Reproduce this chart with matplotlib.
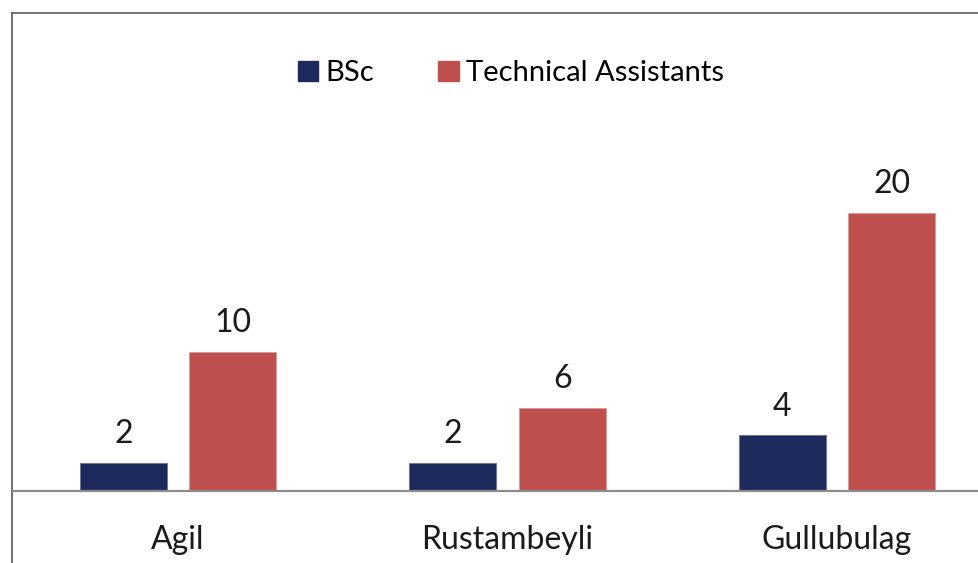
import numpy as np
import matplotlib.pyplot as plt
from matplotlib.patches import Patch

# data
villages = ["Agil", "Rustambeyli", "Gullubulag"]
bsc = [2, 2, 4]
tech_assistants = [10, 6, 20]

navy = "#1f2a5c"
red = "#c0504d"

plt.rcParams['font.family'] = ['Lato', 'DejaVu Sans']

fig = plt.figure(figsize=(9.79, 5.63), dpi=100)
W, H = 979, 563

# axes spans from the left frame line to the right edge, top frame line to bottom
ax = fig.add_axes([12 / W, 0, 1 - 12 / W, 1 - 13 / H])

x = np.arange(len(villages))
off = 0.166
w = 0.264
b1 = ax.bar(x - off, bsc, w, color=navy, edgecolor="#6b7090", linewidth=0.6, label="BSc")
b2 = ax.bar(x + off, tech_assistants, w, color=red, edgecolor="#d99a98", linewidth=0.6,
            label="Technical Assistants")

for bars, vals in ((b1, bsc), (b2, tech_assistants)):
    for r, v in zip(bars, vals):
        ax.annotate(str(v), (r.get_x() + r.get_width() / 2, v), xytext=(0, 10),
                    textcoords="offset points", ha="center", va="bottom",
                    fontsize=23, color="#1a1a1a")

for i, name in enumerate(villages):
    ax.text(i, -3.5, name, ha="center", va="center", fontsize=23, color="#1a1a1a")

ax.axhline(0, color="#8c8c8c", lw=1.6, zorder=3)

ax.set_xlim(-0.504, 2.431)
ax.set_ylim(-5.18, 34.4)
ax.set_xticks([])
ax.set_yticks([])
for s in ["right", "bottom"]:
    ax.spines[s].set_visible(False)
ax.spines["left"].set_color("#595959")
ax.spines["top"].set_color("#595959")
ax.spines["left"].set_linewidth(1.2)
ax.spines["top"].set_linewidth(1.2)

handles = [Patch(color=navy), Patch(color=red)]
ax.legend(handles, ["BSc", "Technical Assistants"], loc="center", bbox_to_anchor=(511 / W, 1 - 73 / H),
          bbox_transform=fig.transFigure, ncol=2, frameon=False, fontsize=21,
          handlelength=0.7, handleheight=0.7, handletextpad=0.25, columnspacing=2.2)

fig.savefig("out.png", dpi=100)
